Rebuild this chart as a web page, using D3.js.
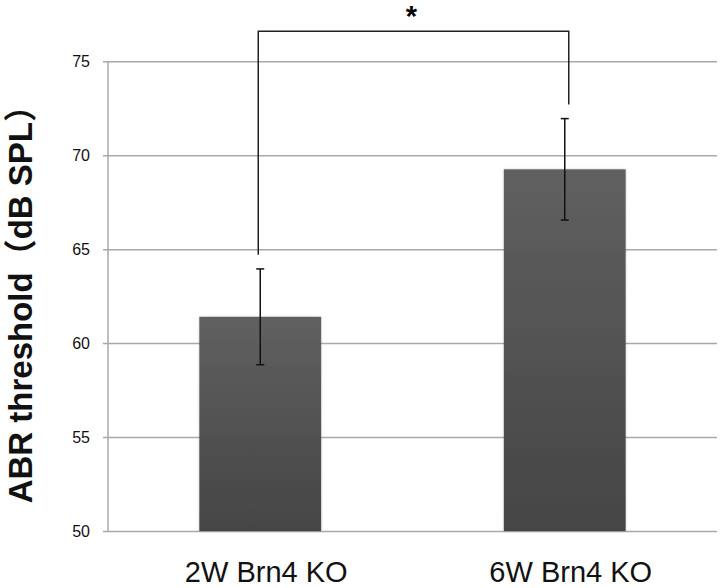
<!DOCTYPE html>
<html>
<head>
<meta charset="utf-8">
<script src="https://cdn.jsdelivr.net/npm/d3@7"></script>
<style>
  html, body { margin: 0; padding: 0; background: #fff; }
  svg { display: block; }
  text { font-family: "Liberation Sans", Arial, "Noto Sans CJK JP", sans-serif; }
</style>
</head>
<body>
<div id="chart"></div>
<script>
const groups = ['2W Brn4 KO', '6W Brn4 KO'];
const means = [61.4, 69.25];
const errors = [2.55, 2.7];
const yTicks = [50, 55, 60, 65, 70, 75];
// significance bracket: left/right end values and top, in dB
const bracketEnds = [64.7, 72.7];
const bracketTop = 76.6;
const sigLabel = '*';

const width = 721, height = 588;
const plot = { left: 108, right: 717, top: 61.3, bottom: 531 };

const svg = d3.select('#chart').append('svg')
  .attr('width', width)
  .attr('height', height);

const defs = svg.append('defs');
const grad = defs.append('linearGradient')
  .attr('id', 'barFill')
  .attr('x1', 0).attr('y1', 0).attr('x2', 0).attr('y2', 1);
grad.append('stop').attr('offset', '0%').attr('stop-color', '#606060');
grad.append('stop').attr('offset', '100%').attr('stop-color', '#454545');

const shadow = defs.append('filter').attr('id', 'soft')
  .attr('x', '-10%').attr('y', '-10%').attr('width', '120%').attr('height', '120%');
shadow.append('feGaussianBlur').attr('in', 'SourceAlpha').attr('stdDeviation', 1.2).attr('result', 'b');
shadow.append('feComponentTransfer').append('feFuncA').attr('type', 'linear').attr('slope', 0.25);
const merge = shadow.append('feMerge');
merge.append('feMergeNode');
merge.append('feMergeNode').attr('in', 'SourceGraphic');

const x = d3.scaleBand()
  .domain(groups)
  .range([plot.left, plot.right])
  .paddingInner(0.6)
  .paddingOuter(0.3);

const y = d3.scaleLinear()
  .domain([50, 75])
  .range([plot.bottom, plot.top]);

// gridlines + tick labels
const yAxis = svg.append('g')
  .attr('transform', `translate(${plot.left},0)`)
  .call(d3.axisLeft(y).tickValues(yTicks).tickSize(-(plot.right - plot.left)).tickPadding(14));
yAxis.select('.domain').remove();
yAxis.selectAll('.tick line')
  .attr('x1', -5)
  .attr('stroke', '#a8a8a8')
  .attr('stroke-width', 1.5);
yAxis.selectAll('.tick text')
  .attr('x', -18)
  .attr('font-size', 16)
  .attr('fill', '#111');

// vertical axis line
svg.append('line')
  .attr('x1', plot.left).attr('x2', plot.left)
  .attr('y1', y(75)).attr('y2', y(50))
  .attr('stroke', '#a8a8a8')
  .attr('stroke-width', 1.5);

// bars
svg.selectAll('rect.bar')
  .data(groups)
  .enter().append('rect')
  .attr('class', 'bar')
  .attr('x', d => x(d))
  .attr('width', x.bandwidth())
  .attr('y', (d, i) => y(means[i]))
  .attr('height', (d, i) => y(50) - y(means[i]))
  .attr('fill', 'url(#barFill)')
  .attr('filter', 'url(#soft)');

// error bars
const cx = d => x(d) + x.bandwidth() / 2;
const eb = svg.append('g').attr('stroke', '#111').attr('stroke-width', 1.5);
groups.forEach((g, i) => {
  const hi = y(means[i] + errors[i]), lo = y(means[i] - errors[i]);
  eb.append('line').attr('x1', cx(g)).attr('x2', cx(g)).attr('y1', hi).attr('y2', lo);
  eb.append('line').attr('x1', cx(g) - 4).attr('x2', cx(g) + 4).attr('y1', hi).attr('y2', hi);
  eb.append('line').attr('x1', cx(g) - 4).attr('x2', cx(g) + 4).attr('y1', lo).attr('y2', lo);
});

// significance bracket
const bx = [cx(groups[0]) - 2, cx(groups[1]) + 4];
svg.append('path')
  .attr('d', `M${bx[0]},${y(bracketEnds[0])}V${y(bracketTop)}H${bx[1]}V${y(bracketEnds[1])}`)
  .attr('fill', 'none')
  .attr('stroke', '#222')
  .attr('stroke-width', 1.5);
svg.append('text')
  .attr('x', (bx[0] + bx[1]) / 2 - 2)
  .attr('y', 26)
  .attr('text-anchor', 'middle')
  .attr('font-size', 29)
  .attr('font-weight', 'bold')
  .text(sigLabel);

// category labels
svg.selectAll('text.cat')
  .data(groups)
  .enter().append('text')
  .attr('class', 'cat')
  .attr('x', d => cx(d) + 6)
  .attr('y', 582)
  .attr('text-anchor', 'middle')
  .attr('font-size', 29)
  .attr('fill', '#111')
  .text(d => d);

// y title
svg.append('text')
  .attr('transform', `translate(32,${(plot.top + plot.bottom) / 2}) rotate(-90)`)
  .attr('text-anchor', 'middle')
  .attr('font-size', 33)
  .attr('font-weight', 'bold')
  .attr('fill', '#111')
  .text('ABR threshold（dB SPL）');
</script>
</body>
</html>
